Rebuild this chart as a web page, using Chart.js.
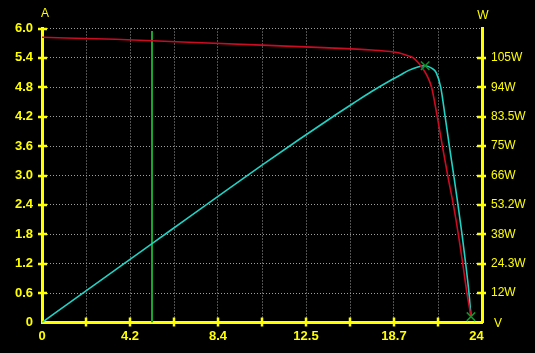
<!DOCTYPE html>
<html>
<head>
<meta charset="utf-8">
<script src="https://cdn.jsdelivr.net/npm/chart.js@4/dist/chart.umd.min.js"></script>
<style>
  body { margin: 0; background: #000; }
  #wrap { width: 535px; height: 353px; }
</style>
</head>
<body>
<div id="wrap"><canvas id="ivChart" width="535" height="353"></canvas></div>
<script>
// I-V curve of the panel
const currentVoltage = [0, 4, 8, 12, 16, 18, 19, 19.5, 20, 20.25, 20.5, 20.75, 21, 21.25, 21.56, 21.84, 22.13, 22.44, 22.71, 22.95, 23.18, 23.4];
const current = [5.82, 5.78, 5.72, 5.66, 5.60, 5.56, 5.53, 5.50, 5.44, 5.40, 5.31, 5.19, 5.04, 4.80, 4.20, 3.60, 3.00, 2.40, 1.80, 1.20, 0.60, 0.12];

// P-V curve (right axis units)
const powerVoltage = [0, 2, 4, 6, 8, 10, 12, 14, 16, 17, 18, 19, 19.5, 20, 20.5, 20.9, 21.25, 21.5, 21.75, 21.99, 22.22, 22.46, 22.69, 22.91, 23.11, 23.29, 23.4];
const power = [0, 10.8, 21.5, 32.2, 42.9, 53.6, 64.2, 74.6, 84.7, 89.6, 94.4, 98.8, 100.8, 102.9, 104.3, 104.8, 103.8, 102.0, 96.0, 84.0, 72.0, 60.0, 48.0, 36.0, 24.0, 12.0, 2.4];

// cursor line and marked points
const cursorVoltage = [6.0, 6.0];
const cursorCurrent = [0, 5.95];
const mppVoltage = 20.9;
const mppPower = 104.8;
const vocVoltage = 23.4;
const vocCurrent = 0.12;

// tick labels as shown on the device
const xTickLabels = ['0', '', '4.2', '', '8.4', '', '12.5', '', '18.7', '', '24   '];
const currentTickLabels = ['0', '0.6', '1.2', '1.8', '2.4', '3.0', '3.6', '4.2', '4.8', '5.4', '6.0'];
const powerTickLabels = ['', '12W', '24.3W', '38W', '53.2W', '66W', '75W', '83.5W', '94W', '105W', ''];

const YELLOW = '#ffff00';
const GRID = '#a0a0a0';

const toPoints = (xs, ys) => xs.map((x, i) => ({ x: x, y: ys[i] }));

// yellow tick marks crossing the axes + axis names
const axisDecor = {
    id: 'axisDecor',
    afterDraw(chart) {
        const ctx = chart.ctx;
        const area = chart.chartArea;
        const sx = chart.scales.x, sy = chart.scales.y, sy2 = chart.scales.y2;
        ctx.save();
        ctx.strokeStyle = YELLOW;
        ctx.lineWidth = 2.5;
        ctx.beginPath();
        sy.ticks.forEach((t, i) => {
            if (i === 0) return;
            const y = Math.round(sy.getPixelForValue(t.value));
            ctx.moveTo(area.left - 4, y);
            ctx.lineTo(area.left + 5, y);
        });
        sy2.ticks.forEach((t, i) => {
            if (i === 0 || i === sy2.ticks.length - 1) return;
            const y = Math.round(sy2.getPixelForValue(t.value));
            ctx.moveTo(area.right - 5, y);
            ctx.lineTo(area.right + 4, y);
        });
        sx.ticks.forEach((t, i) => {
            if (i === 0 || i === sx.ticks.length - 1) return;
            const x = Math.round(sx.getPixelForValue(t.value));
            ctx.moveTo(x, area.bottom - 5);
            ctx.lineTo(x, area.bottom + 4);
        });
        ctx.stroke();

        ctx.fillStyle = YELLOW;
        ctx.font = '12px "Liberation Sans", sans-serif';
        ctx.textAlign = 'center';
        ctx.textBaseline = 'middle';
        ctx.fillText('A', area.left + 3, area.top - 15);
        ctx.fillText('W', area.right + 1, area.top - 13);
        ctx.fillText('V', area.right + 16, area.bottom + 1);
        ctx.restore();
    }
};

const ctx = document.getElementById('ivChart').getContext('2d');
new Chart(ctx, {
    type: 'line',
    data: {
        datasets: [
            {
                label: 'MPP',
                data: [{ x: mppVoltage, y: mppPower }],
                yAxisID: 'y2',
                showLine: false,
                pointStyle: 'crossRot',
                pointRadius: 6,
                borderColor: '#12902e',
                borderWidth: 1.5
            },
            {
                label: 'Voc',
                data: [{ x: vocVoltage, y: vocCurrent }],
                yAxisID: 'y',
                showLine: false,
                pointStyle: 'crossRot',
                pointRadius: 6,
                borderColor: '#12902e',
                borderWidth: 1.5
            },
            {
                label: 'Current',
                data: toPoints(currentVoltage, current),
                yAxisID: 'y',
                borderColor: '#cc0a22',
                borderWidth: 1.6,
                pointRadius: 0,
                cubicInterpolationMode: 'monotone'
            },
            {
                label: 'Power',
                data: toPoints(powerVoltage, power),
                yAxisID: 'y2',
                borderColor: '#1ed2c4',
                borderWidth: 1.6,
                pointRadius: 0,
                cubicInterpolationMode: 'monotone'
            },
            {
                label: 'Cursor',
                data: toPoints(cursorVoltage, cursorCurrent),
                yAxisID: 'y',
                borderColor: '#17a52c',
                borderWidth: 2,
                pointRadius: 0
            }
        ]
    },
    options: {
        responsive: false,
        animation: false,
        layout: { padding: { top: 28.5, left: 0, right: 0, bottom: 0 } },
        plugins: {
            legend: { display: false },
            tooltip: { enabled: false }
        },
        scales: {
            x: {
                type: 'linear',
                min: 0,
                max: 24,
                afterFit: s => { s.height = 30.5; s.paddingLeft = 0; s.paddingRight = 0; },
                ticks: {
                    count: 11,
                    autoSkip: false,
                    maxRotation: 0,
                    padding: 6,
                    color: YELLOW,
                    font: { family: '"Liberation Sans", sans-serif', size: 13, weight: 'bold' },
                    callback: (v, i) => xTickLabels[i]
                },
                grid: { color: GRID, lineWidth: 1, drawTicks: false },
                border: { color: YELLOW, width: 3, dash: [1, 2] }
            },
            y: {
                position: 'left',
                min: 0,
                max: 6,
                afterFit: s => { s.width = 42; s.paddingTop = 0; s.paddingBottom = 0; },
                ticks: {
                    count: 11,
                    padding: 9,
                    color: YELLOW,
                    font: { family: '"Liberation Sans", sans-serif', size: 13, weight: 'bold' },
                    callback: (v, i) => currentTickLabels[i]
                },
                grid: { color: GRID, lineWidth: 1, drawTicks: false },
                border: { color: YELLOW, width: 3, dash: [1, 2] }
            },
            y2: {
                position: 'right',
                min: 0,
                max: 120,
                afterFit: s => { s.width = 53; s.paddingTop = 0; s.paddingBottom = 0; },
                ticks: {
                    count: 11,
                    padding: 9,
                    color: YELLOW,
                    font: { family: '"Liberation Sans", sans-serif', size: 12 },
                    callback: (v, i) => powerTickLabels[i]
                },
                grid: { display: false, drawTicks: false },
                border: { color: YELLOW, width: 3 }
            }
        }
    },
    plugins: [axisDecor]
});
</script>
</body>
</html>
